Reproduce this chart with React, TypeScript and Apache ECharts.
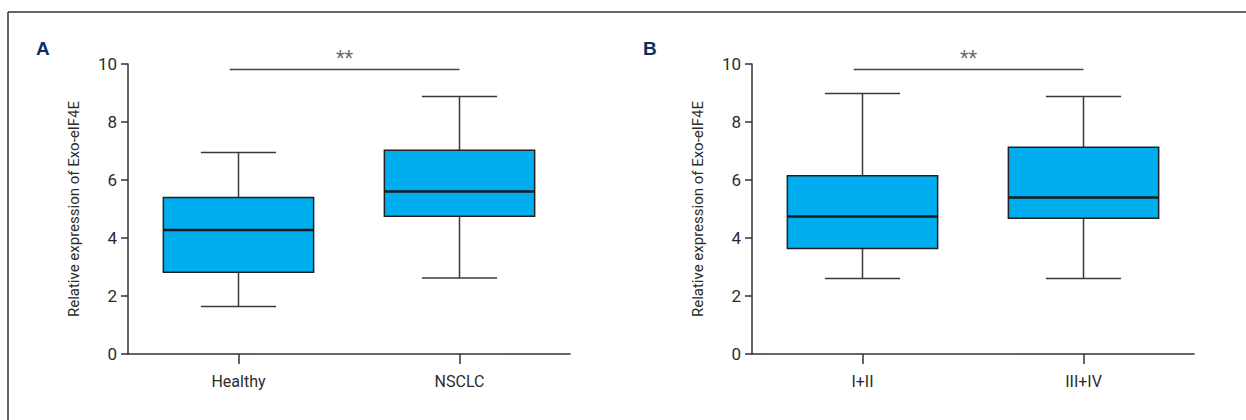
import React, { useEffect, useRef } from "react";
import * as echarts from "echarts";

// Panel A
const catsA = ["Healthy", "NSCLC"];
// [min, Q1, median, Q3, max]
const boxA = [
  [1.64, 2.82, 4.28, 5.4, 6.95],
  [2.62, 4.75, 5.6, 7.03, 8.88],
];
// Panel B
const catsB = ["I+II", "III+IV"];
const boxB = [
  [2.6, 3.64, 4.74, 6.15, 8.98],
  [2.6, 4.68, 5.4, 7.13, 8.88],
];
const sigLabel = "**";
const sigLevel = 9.81;
const sigSpan = [0.46, 1.5]; // in category-band units
const yTicks = [0, 2, 4, 6, 8, 10];
const yTitle = "Relative expression of Exo-eIF4E";
const panelLetters = ["A", "B"];

const FONT = "Roboto";
const AXIS = "#333333";
const TEXT = "#2b2b2b";

function renderBox(params: any, api: any) {
  const idx = api.value(0);
  const mn = api.value(1), q1 = api.value(2), md = api.value(3), q3 = api.value(4), mx = api.value(5);
  const pMin = api.coord([idx, mn]);
  const pQ1 = api.coord([idx, q1]);
  const pMd = api.coord([idx, md]);
  const pQ3 = api.coord([idx, q3]);
  const pMx = api.coord([idx, mx]);
  const band = api.size([1, 0])[0];
  const bw = band * 0.68;
  const cw = bw * 0.5;
  const cx = pMin[0];
  const wStyle = { stroke: "#3a3a3a", lineWidth: 1.5 };
  return {
    type: "group",
    children: [
      { type: "line", shape: { x1: cx, y1: pMx[1], x2: cx, y2: pQ3[1] }, style: wStyle },
      { type: "line", shape: { x1: cx, y1: pQ1[1], x2: cx, y2: pMin[1] }, style: wStyle },
      { type: "line", shape: { x1: cx - cw / 2, y1: pMx[1], x2: cx + cw / 2, y2: pMx[1] }, style: wStyle },
      { type: "line", shape: { x1: cx - cw / 2, y1: pMin[1], x2: cx + cw / 2, y2: pMin[1] }, style: wStyle },
      {
        type: "rect",
        shape: { x: cx - bw / 2, y: pQ3[1], width: bw, height: pQ1[1] - pQ3[1] },
        style: { fill: "#00ADEE", stroke: "#231f20", lineWidth: 1.5 },
      },
      {
        type: "line",
        shape: { x1: cx - bw / 2, y1: pMd[1], x2: cx + bw / 2, y2: pMd[1] },
        style: { stroke: "#1a1a1a", lineWidth: 2.5 },
      },
    ],
  };
}

function yAxisFor(gridIndex: number) {
  return {
    type: "value",
    gridIndex,
    min: yTicks[0],
    max: yTicks[yTicks.length - 1],
    interval: 2,
    name: yTitle,
    nameLocation: "middle",
    nameGap: 47,
    nameTextStyle: { fontFamily: FONT, fontSize: 15, color: TEXT },
    axisLine: { show: true, lineStyle: { color: AXIS, width: 1.5 } },
    axisTick: { show: true, length: 7, lineStyle: { color: AXIS, width: 1.5 } },
    splitLine: { show: false },
    axisLabel: { fontFamily: FONT, fontSize: 17, color: TEXT, margin: 11 },
  };
}

function xAxisFor(gridIndex: number, cats: string[]) {
  return {
    type: "category",
    gridIndex,
    data: cats,
    boundaryGap: true,
    axisLine: { show: true, lineStyle: { color: AXIS, width: 1.5 } },
    axisTick: { show: true, alignWithLabel: true, length: 10, lineStyle: { color: AXIS, width: 1.5 } },
    axisLabel: { fontFamily: FONT, fontSize: 16, color: TEXT, margin: 19 },
    splitLine: { show: false },
  };
}

function hiddenX(gridIndex: number) {
  return { type: "value", gridIndex, min: 0, max: 2, show: false };
}

function boxData(stats: number[][]) {
  return stats.map((s, i) => [i, ...s]);
}

export default function App() {
  const ref = useRef<HTMLDivElement>(null);
  useEffect(() => {
    if (!ref.current) return;
    const chart = echarts.init(ref.current, null, { renderer: "svg" });
    const sigMid = (sigSpan[0] + sigSpan[1]) / 2;
    chart.setOption({
      animation: false,
      backgroundColor: "#ffffff",
      grid: [
        { left: 128, top: 64, width: 442, height: 290 },
        { left: 752, top: 64, width: 442, height: 290 },
      ],
      xAxis: [xAxisFor(0, catsA), xAxisFor(1, catsB), hiddenX(0), hiddenX(1)],
      yAxis: [yAxisFor(0), yAxisFor(1)],
      series: [
        {
          type: "custom",
          xAxisIndex: 0,
          yAxisIndex: 0,
          renderItem: renderBox,
          encode: { x: 0, y: [1, 2, 3, 4, 5] },
          data: boxData(boxA),
        },
        {
          type: "custom",
          xAxisIndex: 1,
          yAxisIndex: 1,
          renderItem: renderBox,
          encode: { x: 0, y: [1, 2, 3, 4, 5] },
          data: boxData(boxB),
        },
        ...[0, 1].map((g) => ({
          type: "line",
          xAxisIndex: 2 + g,
          yAxisIndex: g,
          symbol: "none",
          lineStyle: { color: "#444", width: 1.5 },
          data: [
            [sigSpan[0], sigLevel],
            [sigSpan[1], sigLevel],
          ],
        })),
        ...[0, 1].map((g) => ({
          type: "scatter",
          xAxisIndex: 2 + g,
          yAxisIndex: g,
          clip: false,
          symbolSize: 0,
          label: {
            show: true,
            position: "top",
            distance: 2,
            formatter: sigLabel,
            fontFamily: FONT,
            fontSize: 20,
            color: "#444",
          },
          data: [[sigMid, sigLevel]],
        })),
      ],
      graphic: [
        { type: "line", shape: { x1: 8, y1: 12, x2: 1246, y2: 12 }, style: { stroke: "#333", lineWidth: 1.5 } },
        { type: "line", shape: { x1: 8, y1: 12, x2: 8, y2: 420 }, style: { stroke: "#333", lineWidth: 1.5 } },
        {
          type: "text",
          left: 36,
          top: 39,
          style: { text: panelLetters[0], fontFamily: "Liberation Sans", fontWeight: "bold", fontSize: 19, fill: "#0c2f5f" },
        },
        {
          type: "text",
          left: 643,
          top: 39,
          style: { text: panelLetters[1], fontFamily: "Liberation Sans", fontWeight: "bold", fontSize: 19, fill: "#0c2f5f" },
        },
      ],
    });
    return () => chart.dispose();
  }, []);
  return (
    <div
      ref={ref}
      style={{ position: "fixed", left: 0, top: 0, width: 1246, height: 420, background: "#fff" }}
    />
  );
}
